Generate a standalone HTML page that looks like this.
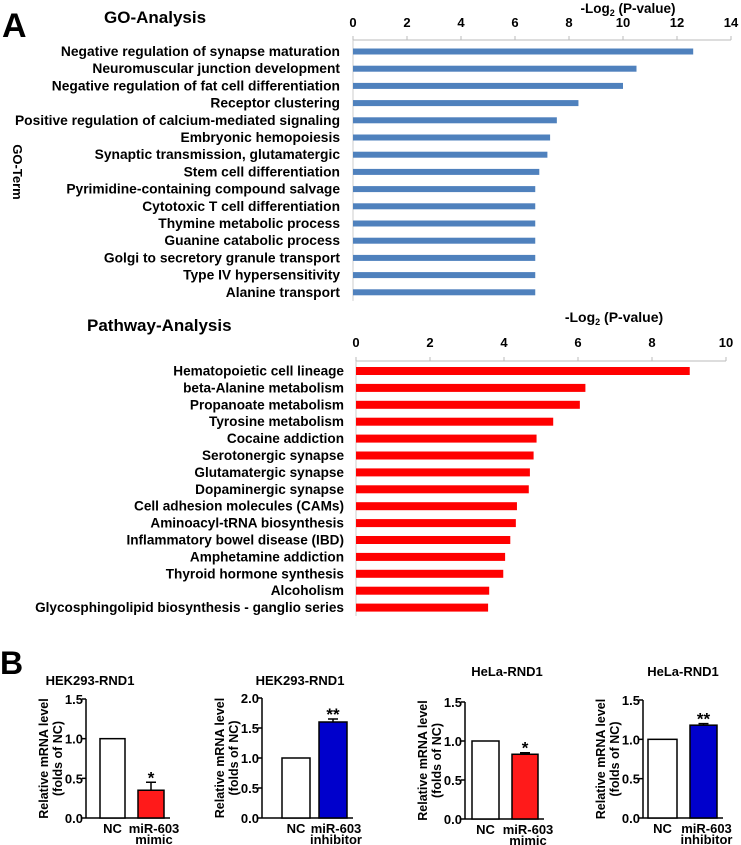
<!DOCTYPE html>
<html><head><meta charset="utf-8"><style>
html,body{margin:0;padding:0;background:#fff}
svg{display:block;font-family:"Liberation Sans",Arial,sans-serif}
.b{font-weight:bold}
.n{font-family:"Liberation Sans Narrow","Liberation Sans",sans-serif;font-weight:bold}
</style></head><body>
<svg id="fig" width="741" height="845" viewBox="0 0 741 845" xmlns="http://www.w3.org/2000/svg">
<text x="2" y="37" class="b" font-size="34">A</text>
<text x="104" y="23" class="b" font-size="17">GO-Analysis</text>
<text x="628" y="13" class="b" font-size="13.5" text-anchor="middle">-Log<tspan font-size="9" dy="3">2</tspan><tspan dy="-3"> (P-value)</tspan></text>
<text transform="translate(13,172) rotate(90)" class="b" font-size="13" text-anchor="middle">GO-Term</text>
<text x="87" y="331" class="n" font-size="17">Pathway-Analysis</text>
<text x="614" y="322" class="n" font-size="14" text-anchor="middle">-Log<tspan font-size="9" dy="3">2</tspan><tspan dy="-3"> (P-value)</tspan></text>
<text x="0" y="674" class="b" font-size="32">B</text>
<g id="go"></g><g id="pw"></g><g id="bp"></g>
</svg>
<script>
const goCats=["Negative regulation of synapse maturation","Neuromuscular junction development","Negative regulation of fat cell differentiation","Receptor clustering","Positive regulation of calcium-mediated signaling","Embryonic hemopoiesis","Synaptic transmission, glutamatergic","Stem cell differentiation","Pyrimidine-containing compound salvage","Cytotoxic T cell differentiation","Thymine metabolic process","Guanine catabolic process","Golgi to secretory granule transport","Type IV hypersensitivity","Alanine transport"];
const goVals=[12.6,10.5,10.0,8.35,7.55,7.3,7.2,6.9,6.75,6.75,6.75,6.75,6.75,6.75,6.75];
const goTicks=[0,2,4,6,8,10,12,14];
const pwCats=["Hematopoietic cell lineage","beta-Alanine metabolism","Propanoate metabolism","Tyrosine metabolism","Cocaine addiction","Serotonergic synapse","Glutamatergic synapse","Dopaminergic synapse","Cell adhesion molecules (CAMs)","Aminoacyl-tRNA biosynthesis","Inflammatory bowel disease (IBD)","Amphetamine addiction","Thyroid hormone synthesis","Alcoholism","Glycosphingolipid biosynthesis - ganglio series"];
const pwVals=[9.02,6.2,6.05,5.33,4.88,4.8,4.7,4.67,4.35,4.32,4.17,4.03,3.98,3.6,3.57];
const pwTicks=[0,2,4,6,8,10];
const bTitles=["HEK293-RND1","HEK293-RND1","HeLa-RND1","HeLa-RND1"];
const bCtrl=[1,1,1,1];
const bTreat=[0.35,1.6,0.83,1.18];
const bErr=[0.1,0.05,0.02,0.02];
const bStars=["*","**","*","**"];
const bMax=[1.5,2.0,1.5,1.5];
const bTickLabels=[["0.0","0.5","1.0","1.5"],["0.0","0.5","1.0","1.5","2.0"],["0.0","0.5","1.0","1.5"],["0.0","0.5","1.0","1.5"]];
const bTreatLabel=["mimic","inhibitor","mimic","inhibitor"];

const NS="http://www.w3.org/2000/svg";
function mk(p,t,a){const e=document.createElementNS(NS,t);for(const k in a)e.setAttribute(k,a[k]);p.appendChild(e);return e;}

function hbar(gid,cats,vals,ticks,x0,x1,axisY,row0,step,bh,color,lblX,lblCls,lblSize,tickY,tickCls){
  const g=document.getElementById(gid);
  const tmax=ticks[ticks.length-1];
  const sx=v=>x0+(x1-x0)*v/tmax;
  const ax=mk(g,'line',{x1:x0,y1:axisY,x2:x1,y2:axisY,stroke:'#bbb','stroke-width':1});
  
  
  const ay=mk(g,'line',{x1:x0,y1:axisY,x2:x0,y2:row0+step*(cats.length-1)+step/2,stroke:'#ccc','stroke-width':1});
  
  
  ticks.forEach(t=>{
    const tk=mk(g,'line',{x1:sx(t),y1:axisY,x2:sx(t),y2:axisY-4,stroke:'#bbb'});
    
    
    const tl=mk(g,'text',{x:sx(t),y:tickY,'text-anchor':'middle','font-size':13,class:tickCls});
    tl.textContent=t;
    
    
  });
  cats.forEach((c,i)=>{
    const cy=row0+step*i;
    const l=mk(g,'text',{x:lblX,y:cy+4.5,'text-anchor':'end','font-size':lblSize,class:lblCls});
    l.textContent=c;
    
    
    const r=mk(g,'rect',{x:x0,y:cy-bh/2,width:sx(vals[i])-x0,height:bh,fill:color});
    
    
  });
}
hbar('go',goCats,goVals,goTicks,353,731,40,51.5,17.2,6,'#4f81bd',340,'b',13.8,27,'b');
hbar('pw',pwCats,pwVals,pwTicks,356,726,361,371,16.9,8,'#ff0000',344,'n',13.6,347,'n');

const panels=[{ax:86,y0:818,top:699,nc:[100,125],tr:[138,164],tc:90,ty:685,fill:'#ff1a1a'},
{ax:262,y0:818,top:698,nc:[282,310],tr:[319,347],tc:300,ty:685,fill:'#0000cc'},
{ax:465,y0:819,top:702,nc:[472,499],tr:[512,538],tc:507,ty:676,fill:'#ff1a1a'},
{ax:643,y0:818,top:700,nc:[648,677],tr:[690,717],tc:683,ty:676,fill:'#0000cc'}];
const bg=document.getElementById('bp');
panels.forEach((p,i)=>{
  const sy=v=>p.y0-(p.y0-p.top)*v/bMax[i];
  const g=mk(bg,'g',{});
  
  
  const t=mk(g,'text',{x:p.tc,y:p.ty,'text-anchor':'middle','font-size':13,class:'b'});
  t.textContent=bTitles[i];
  
  
  const yl=mk(g,'text',{transform:`translate(${p.ax-38},${(p.y0+p.top)/2}) rotate(-90)`,'text-anchor':'middle','font-size':12.5,class:'b'});
  
  
  const s1=mk(yl,'tspan',{x:0,y:0});s1.textContent='Relative mRNA level';
  const s2=mk(yl,'tspan',{x:0,y:14});s2.textContent='(folds of  NC)';
  const yax=mk(g,'line',{x1:p.ax,y1:p.top,x2:p.ax,y2:p.y0,stroke:'#000','stroke-width':1.5});
  
  
  const xax=mk(g,'line',{x1:p.ax,y1:p.y0,x2:p.tr[1]+6,y2:p.y0,stroke:'#000','stroke-width':1.5});
  
  
  bTickLabels[i].forEach(tl=>{
    const v=parseFloat(tl);
    const tk=mk(g,'line',{x1:p.ax-4,y1:sy(v),x2:p.ax,y2:sy(v),stroke:'#000','stroke-width':1.5});
    
    
    const tx=mk(g,'text',{x:p.ax-3,y:sy(v)+5,'text-anchor':'end','font-size':13,class:'b'});
    tx.textContent=tl;
    
    
  });
  const r1=mk(g,'rect',{x:p.nc[0],y:sy(bCtrl[i]),width:p.nc[1]-p.nc[0],height:p.y0-sy(bCtrl[i]),fill:'#fff',stroke:'#000','stroke-width':1.5});
  
  
  const mid=(p.tr[0]+p.tr[1])/2;
  const eb=mk(g,'path',{d:`M${mid} ${sy(bTreat[i])}V${sy(bTreat[i]+bErr[i])}M${mid-5} ${sy(bTreat[i]+bErr[i])}H${mid+5}`,stroke:'#000','stroke-width':1.5,fill:'none'});
  
  
  const r2=mk(g,'rect',{x:p.tr[0],y:sy(bTreat[i]),width:p.tr[1]-p.tr[0],height:p.y0-sy(bTreat[i]),fill:p.fill,stroke:'#000','stroke-width':1.5});
  
  
  const st=mk(g,'text',{x:mid,y:sy(bTreat[i]+bErr[i])+1,'text-anchor':'middle','font-size':17,class:'b'});
  st.textContent=bStars[i];
  
  
  const l1=mk(g,'text',{x:(p.nc[0]+p.nc[1])/2,y:p.y0+15,'text-anchor':'middle','font-size':13,class:'b'});
  l1.textContent='NC';
  
  
  const l2=mk(g,'text',{x:mid+3,y:p.y0+15,'text-anchor':'middle','font-size':13,class:'b'});
  l2.textContent='miR-603';
  
  
  const l3=mk(g,'text',{x:mid+3,y:p.y0+26,'text-anchor':'middle','font-size':13,class:'b'});
  l3.textContent=bTreatLabel[i];
  
  
});
</script>
</body></html>
